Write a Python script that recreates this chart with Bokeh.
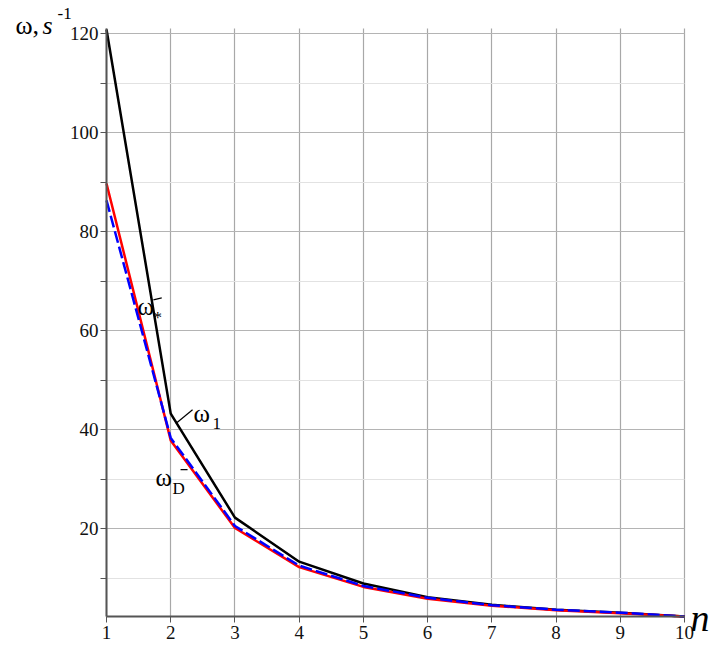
from bokeh.plotting import figure
from bokeh.models import Range1d, FixedTicker, Label, ColumnDataSource
from bokeh.embed import file_html
from bokeh.resources import INLINE

n = [1, 2, 3, 4, 5, 6, 7, 8, 9, 10]
omega_1 = [120.8, 43.2, 22.2, 13.3, 8.9, 6.1, 4.6, 3.6, 3.0, 2.2]
omega_D = [89.7, 37.8, 20.1, 12.2, 8.2, 5.8, 4.4, 3.5, 2.9, 2.2]
omega_star = [86.3, 38.3, 20.5, 12.5, 8.4, 6.0, 4.5, 3.6, 3.0, 2.2]

y_major = [20, 40, 60, 80, 100, 120]
y_minor = [10, 30, 50, 70, 90, 110]
x_ticks = n
X_MIN, X_MAX = 1, 10
Y_MIN, Y_MAX = 2.2, 121.0

FONT = "Liberation Serif"
W, H = 712, 651

p = figure(width=W, height=H, output_backend="svg", toolbar_location=None,
           x_range=Range1d(-0.6506, 10.436), y_range=Range1d(-4.848, 126.667),
           min_border=0, min_border_left=0, min_border_right=0,
           min_border_top=0, min_border_bottom=0)
p.outline_line_color = None
p.background_fill_color = "white"
p.border_fill_color = "white"

p.xaxis.ticker = FixedTicker(ticks=x_ticks)
p.yaxis.ticker = FixedTicker(ticks=y_major, minor_ticks=y_minor)
p.xaxis.fixed_location = Y_MIN
p.yaxis.fixed_location = X_MIN
p.xaxis.bounds = (X_MIN, X_MAX)
p.yaxis.bounds = (Y_MIN, Y_MAX)
for ax in (p.xaxis[0], p.yaxis[0]):
    ax.axis_line_color = "#555555"
    ax.axis_line_width = 2
    ax.major_tick_line_color = "#555555"
    ax.major_tick_out = 6
    ax.major_tick_in = 0
    ax.major_label_text_font = FONT
    ax.major_label_text_font_size = "19px"
    ax.major_label_text_color = "#111111"
p.xaxis.minor_tick_line_color = None
p.yaxis.minor_tick_line_color = "#555555"
p.yaxis.minor_tick_out = 6
p.yaxis.minor_tick_in = 0
p.yaxis.major_label_standoff = 2
p.xaxis.major_label_standoff = 3

p.xgrid.ticker = FixedTicker(ticks=x_ticks)
p.xgrid.grid_line_color = "#a8a8a8"
p.xgrid.grid_line_width = 1.2
p.xgrid.cross_bounds = (Y_MIN, Y_MAX)
p.ygrid.grid_line_color = "#b4b4b4"
p.ygrid.minor_grid_line_color = "#e2e2e2"
p.ygrid.cross_bounds = (X_MIN, X_MAX)

p.line(n, omega_1, line_color="black", line_width=2.5)
p.line(n, omega_D, line_color="#ff0000", line_width=2.5)
p.line(n, omega_star, line_color="#0000ff", line_width=2.5, line_dash="12 4")

def lab(x, y, t, size, italic=False):
    p.add_layout(Label(x=x, y=y, text=t, text_font=FONT, text_font_size=size,
                       text_font_style="italic" if italic else "normal",
                       text_align="left", text_baseline="alphabetic", text_color="black"))

# axis titles
lab(-0.417, 121.6, "ω,", "26px")
lab(0.003, 121.6, "s", "26px", italic=True)
lab(0.237, 124.0, "-1", "17px")
lab(10.094, 2.02, "n", "38px", italic=True)

# curve labels
lab(2.355, 43.2, "ω", "25px")
lab(2.651, 41.2, "1", "17px")
lab(1.483, 64.8, "ω", "25px")
lab(1.732, 62.6, "*", "17px")
lab(1.763, 30.3, "ω", "25px")
lab(2.028, 28.1, "D", "17px")

seg = ColumnDataSource(dict(x0=[2.08, 1.73, 2.153], y0=[41.2, 66.2, 31.9],
                            x1=[2.34, 1.86, 2.262], y1=[44.0, 66.6, 31.9]))
p.segment("x0", "y0", "x1", "y1", source=seg, line_color="black", line_width=1.2)

open("out.html", "w").write(file_html(p, INLINE))
